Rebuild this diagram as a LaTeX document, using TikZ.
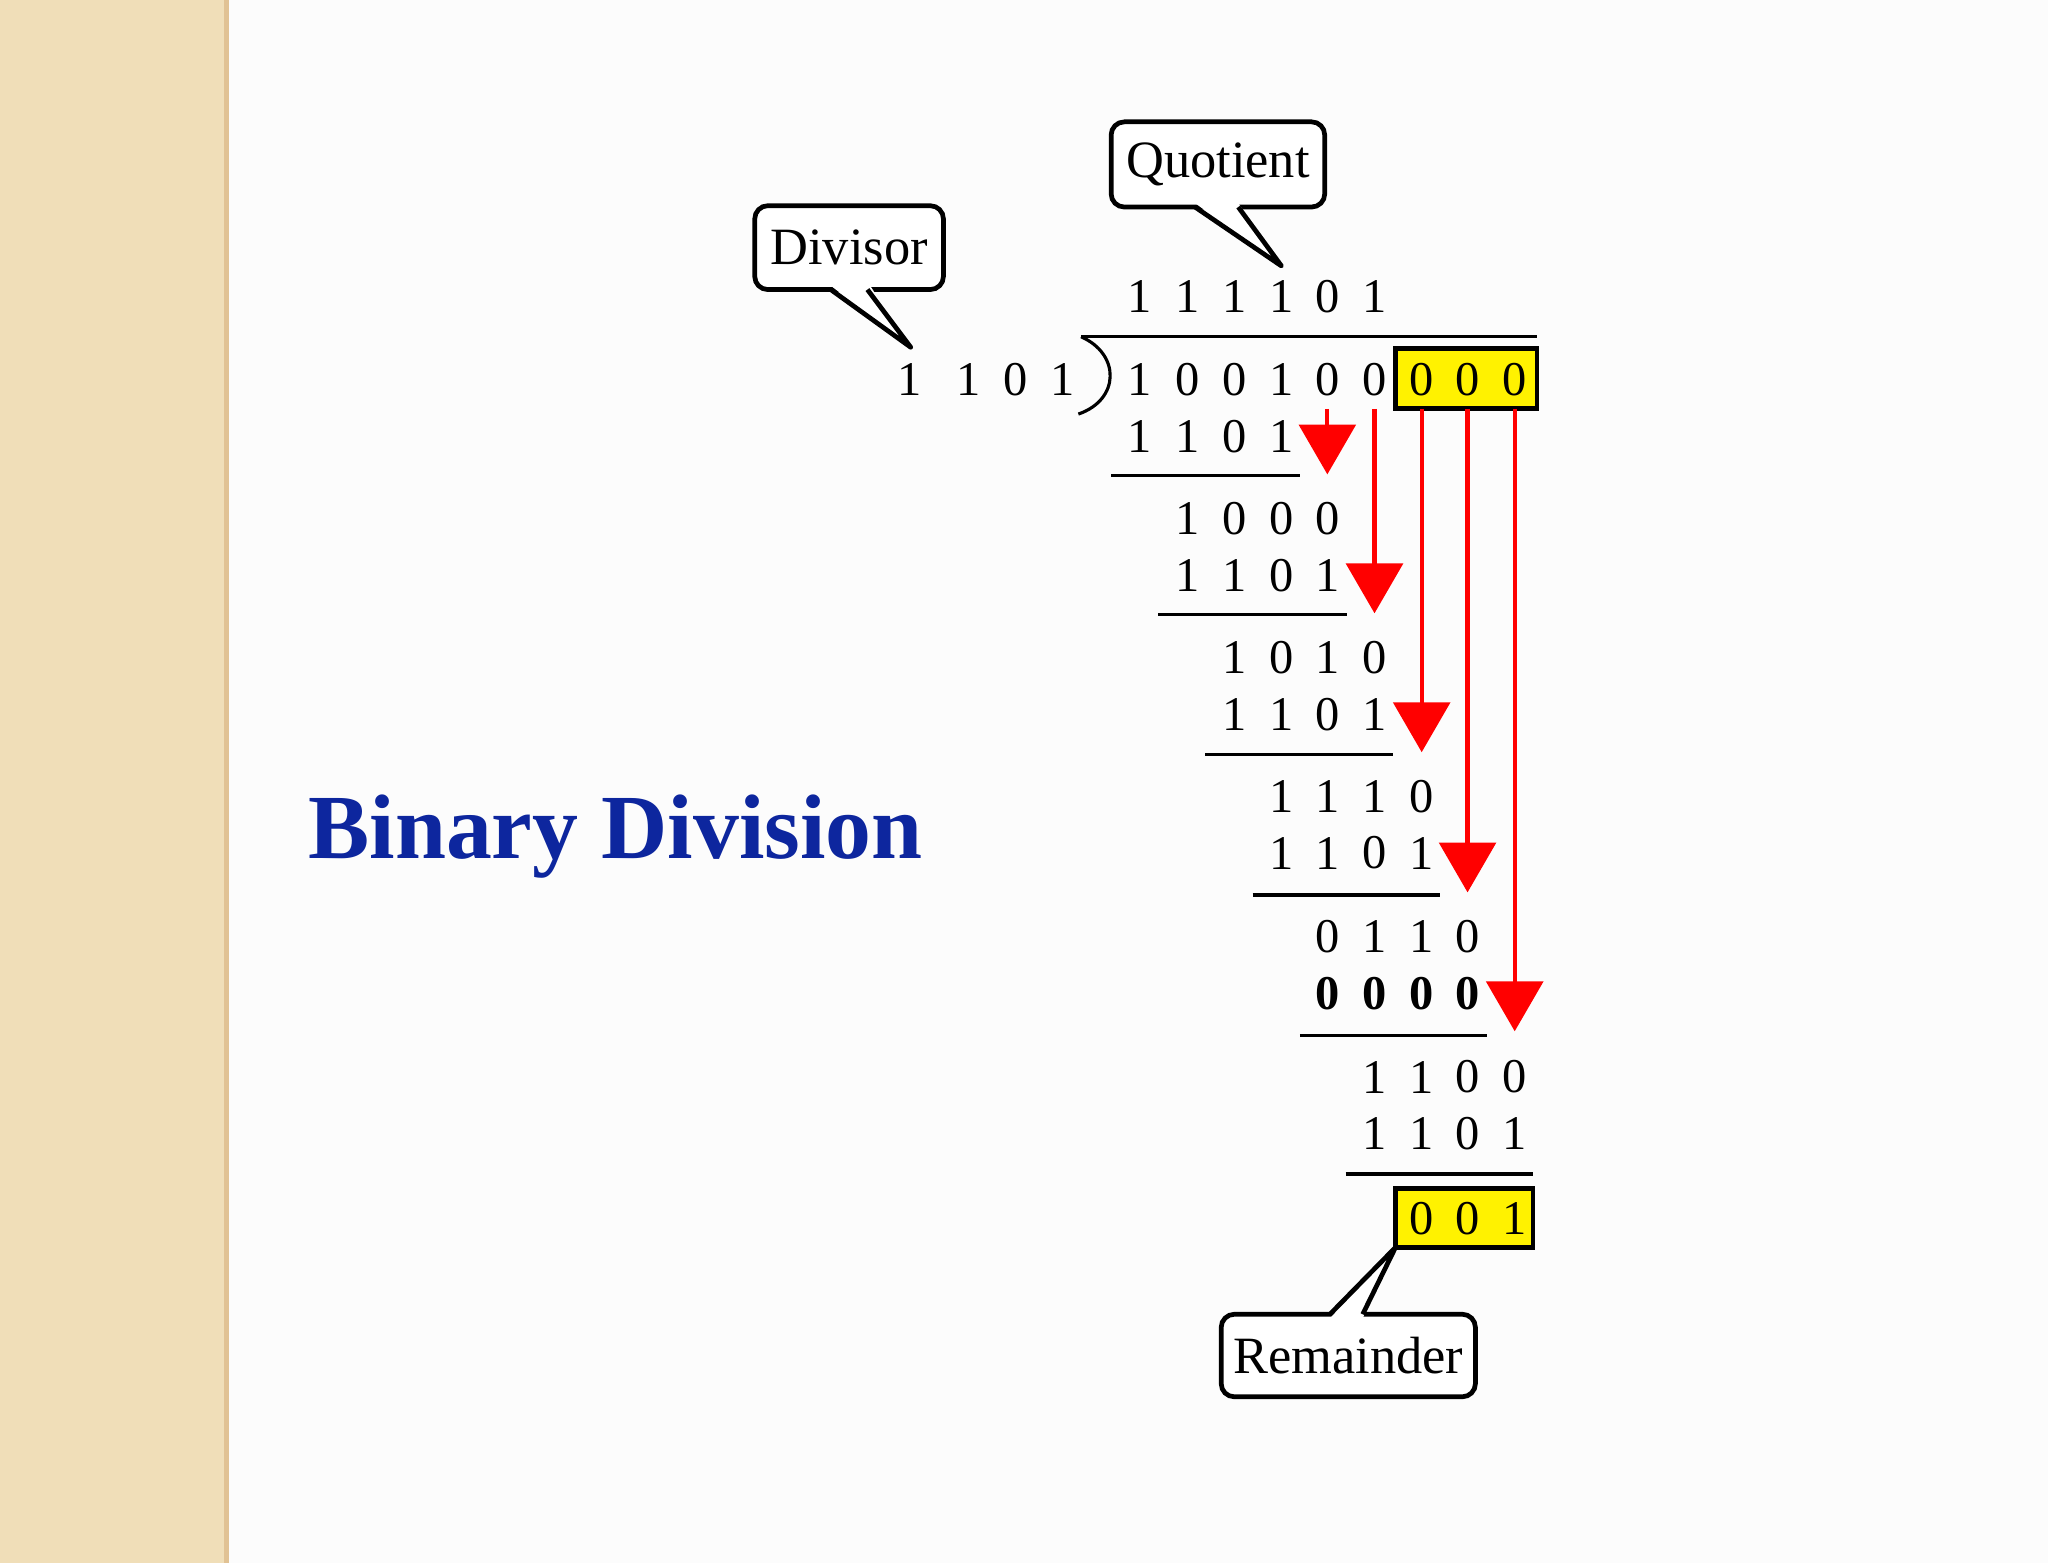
\documentclass[tikz,border=0pt]{standalone}
\usepackage{fontspec}
\setmainfont{Liberation Serif}
\definecolor{beige}{rgb}{0.94,0.87,0.72}
\definecolor{titleblue}{rgb}{0.05,0.15,0.62}
\begin{document}
\begin{tikzpicture}[x=0.5pt,y=-0.5pt,
  dig/.style={inner sep=0pt,font=\fontsize{18.5}{19}\selectfont},
  bdig/.style={dig,font=\fontsize{18.5}{19}\selectfont\bfseries},
  rule/.style={line width=1.2pt},
  call/.style={draw,line width=1.8pt,rounded corners=5pt,fill=white,inner sep=0pt,font=\fontsize{20}{20}\selectfont},
  arr/.style={red,line width=1.6pt},
  ybox/.style={fill=yellow,draw=black,line width=1.8pt}]
\useasboundingbox (0,0) rectangle (1563,1193);
\fill[white!98!gray] (0,0) rectangle (1563,1193);
\fill[beige] (0,0) rectangle (173,1193);
\fill[beige!70!brown] (171,0) rectangle (175,1193);
\node[font=\fontsize{35}{35}\selectfont\bfseries,text=titleblue,anchor=base west,inner sep=0pt] (title) at (235,655) {Binary Division};
% yellow boxes
\filldraw[ybox] (1065,266) rectangle (1173,312);
\filldraw[ybox] (1065,907) rectangle (1170,952);
% columns
\def\cx#1{\ifcase#1 870\or 906\or 942\or 978\or 1013\or 1049\or 1085\or 1120\or 1156\fi}
\foreach \d [count=\i from 0] in {1,1,1,1,0,1} \node[dig] (q\i) at (\cx{\i},226) {\d};
\foreach \d [count=\i from 0] in {1,0,0,1,0,0,0,0,0} \node[dig] (n\i) at (\cx{\i},290) {\d};
\node[dig] (d0) at (694,290) {1};
\foreach \d [count=\i from 1] in {1,0,1} \node[dig] (d\i) at ({703+36*\i},290) {\d};
\draw[rule] (825,257) -- (1173,257);
\draw[line width=1.2pt] (825,257) .. controls (855,270) and (855,305) .. (823,316);
\newcommand\rowd[4]{\foreach \d [count=\i from 0] in {#3} \node[#4] (r#1\i) at ({\cx{\numexpr#2+\i\relax}},#1) {\d};}
\rowd{333}{0}{1,1,0,1}{dig}
\rowd{396}{1}{1,0,0,0}{dig}
\rowd{439}{1}{1,1,0,1}{dig}
\rowd{502}{2}{1,0,1,0}{dig}
\rowd{545}{2}{1,1,0,1}{dig}
\rowd{608}{3}{1,1,1,0}{dig}
\rowd{651}{3}{1,1,0,1}{dig}
\rowd{715}{4}{0,1,1,0}{dig}
\rowd{758}{4}{0,0,0,0}{bdig}
\rowd{822}{5}{1,1,0,0}{dig}
\rowd{865}{5}{1,1,0,1}{dig}
\rowd{930}{6}{0,0,1}{dig}
\draw[rule] (848,363) -- (992,363);
\draw[rule] (884,469) -- (1028,469);
\draw[rule] (920,576) -- (1063,576);
\draw[rule] (956,683) -- (1099,683);
\draw[rule] (992,790) -- (1135,790);
\draw[rule] (1027,896) -- (1170,896);
\foreach \i/\y in {4/362,5/468,6/574,7/681,8/787}{
  \draw[arr] (\cx{\i},312) -- (\cx{\i},\y-30);
  \fill[red] (\cx{\i}-22,\y-38) -- (\cx{\i}+22,\y-38) -- (\cx{\i},\y) -- cycle;
}
% callouts
\node[call,minimum width=72pt,minimum height=32pt] (div) at (648,189) {Divisor};
\fill[white] (634,218) -- (695,265) -- (664,218) -- cycle;
\draw[line width=1.8pt,line join=round] (634,221) -- (695,265) -- (662,221);
\node[call,minimum width=81.5pt,minimum height=32.5pt] (quo) at (929.5,125.5) {Quotient};
\fill[white] (912,155) -- (978,203) -- (945,155) -- cycle;
\draw[line width=1.8pt,line join=round] (912,158) -- (978,203) -- (945,158);
\node[call,minimum width=97pt,minimum height=31.5pt] (rem) at (1029,1034.5) {Remainder};
\fill[white] (1015,1006) -- (1065,952) -- (1040,1006) -- cycle;
\draw[line width=1.8pt,line join=round] (1015,1003) -- (1065,952) -- (1040,1003);
\end{tikzpicture}
\end{document}
